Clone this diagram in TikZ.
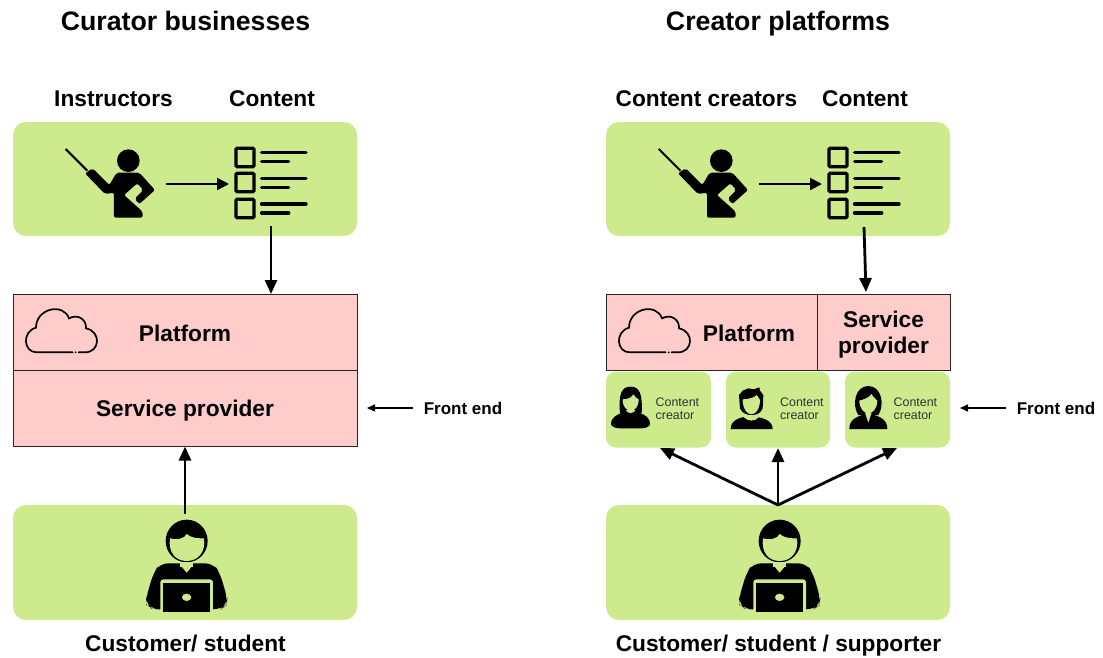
\documentclass[tikz,border=0pt]{standalone}
\usepackage{fontspec}
\setmainfont{Liberation Sans}
\usetikzlibrary{arrows.meta}
\definecolor{grn}{HTML}{CDEA8C}
\definecolor{pnk}{HTML}{FFCCCC}
\tikzset{
 gbox/.style={fill=grn,draw=none,rounded corners=13pt,inner sep=0pt},
 pbox/.style={fill=pnk,draw=black!85,line width=.8pt,inner sep=0pt},
 title/.style={font=\fontsize{26.7}{30}\selectfont\bfseries,inner sep=0pt,anchor=base},
 lab/.style={font=\fontsize{22.7}{26}\selectfont\bfseries,inner sep=0pt,anchor=base},
 small/.style={font=\fontsize{17}{20}\selectfont\bfseries,inner sep=0pt,anchor=base},
 tiny/.style={font=\fontsize{12.4}{13.5}\selectfont,align=left,inner sep=0pt,text=black!80,anchor=west},
 arr/.style={-{Triangle[length=14pt,width=12pt]},line width=2.8pt,black},
 mid arr/.style={-{Triangle[length=12pt,width=12pt]},line width=2pt,black},
 thin arr/.style={-{Triangle[length=8pt,width=7pt]},line width=1.3pt,black},
 zoomed/.style={x=0.3333pt,y=-0.3333pt},
}
% icons drawn in the coordinates of a 3x crop, origin at the crop corner
\newcommand{\teacher}[2]{\begin{scope}[shift={(#1,#2)},zoomed]
 \fill (235,92) circle (34);
 \draw[line width=2pt] (47,57) -- (112,122);
 \fill[rounded corners=2pt] (105,130) -- (128,115) -- (178,165) -- (200,128) -- (268,128) -- (315,180) -- (268,222) -- (254,206) -- (280,180) -- (262,160) -- (222,195) -- (278,245) -- (278,263) -- (192,263) -- (192,188) -- (165,192) -- cycle;
 \foreach \yy/\hh in {55/68,130/145,208/222}{
  \draw[line width=3.2pt,rounded corners=1pt] (558,\yy) rectangle (612,\yy+55);
  \draw[line width=3.4pt,line cap=round] (635,\hh) -- (768,\hh);
  \draw[line width=3.4pt,line cap=round] (635,\hh+27) -- (716,\hh+27);
 }
\end{scope}}
\newcommand{\customer}[2]{\begin{scope}[shift={(#1,#2)},zoomed]
 \fill (170,93) ellipse (63 and 64);
 \fill[grn] (120,85) .. controls (140,92) and (165,85) .. (170,72) .. controls (185,85) and (205,85) .. (222,85) .. controls (228,125) and (205,153) .. (170,153) .. controls (135,153) and (114,125) .. (120,85) -- cycle;
 \fill[rounded corners=8pt] (90,160) -- (250,160) -- (270,190) -- (292,265) -- (290,285) -- (272,298) -- (85,298) -- (66,296) -- (48,282) -- (48,265) -- (70,190) -- cycle;
 \fill[grn] (150,156) rectangle (190,170);
 \fill[grn] (155,170) -- (185,170) -- (170,188) -- cycle;
 \fill[grn,rounded corners=3pt] (91,208) rectangle (249,312);
 \fill (100,218) rectangle (240,305);
 \fill[grn] (170,262) ellipse (14 and 11);
\end{scope}}
\newcommand{\cloud}[2]{\begin{scope}[shift={(#1,#2)},zoomed]
 \draw[line width=1.7pt,line cap=round] (188,172) -- (80,172) .. controls (40,172) and (35,110) .. (78,98) .. controls (78,40) and (160,22) .. (177,70) .. controls (205,55) and (230,75) .. (228,100) .. controls (275,110) and (270,172) .. (225,172) -- (206,172);
 \fill (197,172) circle (3);
\end{scope}}
\newcommand{\womanA}[2]{\begin{scope}[shift={(#1,#2)},zoomed]
 \fill (60,160) .. controls (55,100) and (65,80) .. (92,80) .. controls (118,80) and (128,100) .. (125,160) -- cycle;
 \fill (33,192) .. controls (33,165) and (70,155) .. (92,155) .. controls (115,155) and (150,165) .. (150,192) .. controls (150,200) and (135,205) .. (125,205) -- (60,205) .. controls (48,205) and (33,200) .. (33,192) -- cycle;
 \fill[grn] (68,118) .. controls (85,118) and (95,112) .. (100,103) .. controls (105,112) and (112,116) .. (116,118) .. controls (116,140) and (105,152) .. (92,152) .. controls (79,152) and (68,140) .. (68,118) -- cycle;
 \fill[grn] (78,150) -- (106,150) .. controls (104,162) and (80,162) .. (78,150) -- cycle;
\end{scope}}
\newcommand{\manB}[2]{\begin{scope}[shift={(#1,#2)},zoomed]
 \fill (420,145) -- (417,105) -- (428,92) -- (445,85) -- (462,88) -- (478,82) -- (480,92) -- (490,105) -- (488,145) .. controls (480,172) and (430,172) .. (420,145) -- cycle;
 \fill (392,207) .. controls (392,180) and (420,170) .. (450,170) .. controls (485,170) and (518,180) .. (518,207) -- cycle;
 \fill[grn] (428,118) .. controls (445,118) and (465,112) .. (470,105) .. controls (475,112) and (478,116) .. (480,120) .. controls (480,145) and (468,163) .. (454,163) .. controls (440,163) and (428,145) .. (428,118) -- cycle;
 \fill[grn] (432,172) .. controls (445,185) and (465,185) .. (476,172) -- (470,165) -- (438,165) -- cycle;
\end{scope}}
\newcommand{\womanC}[2]{\begin{scope}[shift={(#1,#2)},zoomed]
 \fill (775,165) .. controls (755,135) and (765,78) .. (805,78) .. controls (845,78) and (855,135) .. (835,165) -- cycle;
 \fill (748,207) .. controls (748,175) and (775,168) .. (805,160) .. controls (835,168) and (862,175) .. (862,207) -- cycle;
 \fill[grn] (778,122) .. controls (795,118) and (810,110) .. (815,102) .. controls (820,112) and (828,118) .. (832,122) .. controls (832,145) and (818,160) .. (805,160) .. controls (792,160) and (778,145) .. (778,122) -- cycle;
 \fill[grn] (795,158) -- (815,158) -- (805,188) -- cycle;
\end{scope}}
\begin{document}
\begin{tikzpicture}[x=1pt,y=-1pt]
\useasboundingbox (0,0) rectangle (1103,657);
% left column
\node[title] (t1) at (185.5,30) {Curator businesses};
\node[lab] (l1) at (113.5,106) {Instructors};
\node[lab] (l2) at (272,106) {Content};
\node[gbox,minimum width=344pt,minimum height=114pt] (top1) at (185,179) {};
\node[pbox,minimum width=344pt,minimum height=76pt] (plat1) at (185,332) {};
\node[pbox,minimum width=344pt,minimum height=76pt] (serv1) at (185,408) {};
\node[lab] (pl1) at (185,341) {Platform};
\node[lab] (sv1) at (185,416) {Service provider};
\node[gbox,minimum width=344pt,minimum height=115pt] (cust1) at (185,562.5) {};
\node[lab] (l3) at (185.5,651) {Customer/ student};
\node[small] (fe1) at (463,414) {Front end};
\teacher{50}{130}
\cloud{10}{295}
\customer{130}{510}
\coordinate (a1) at (166,184);
\coordinate (a2) at (229,184);
\coordinate (b1) at (271,226);
\coordinate (b2) at (271,294);
\coordinate (c1) at (185,514);
\coordinate (c2) at (185,446.5);
\coordinate (d1) at (413,408);
\coordinate (d2) at (367,408);
\draw[mid arr] (a1) -- (a2);
\draw[arr] (b1) -- (b2);
\draw[arr] (c1) -- (c2);
\draw[thin arr] (d1) -- (d2);
% right column
\node[title] (t2) at (778,30) {Creator platforms};
\node[lab] (l4) at (706.5,106) {Content creators};
\node[lab] (l5) at (865,106) {Content};
\node[gbox,minimum width=344pt,minimum height=114pt] (top2) at (778,179) {};
\node[pbox,minimum width=211pt,minimum height=76pt] (plat2) at (711.5,332) {};
\node[pbox,minimum width=133pt,minimum height=76pt] (serv2) at (883.5,332) {};
\node[lab] (pl2) at (749,341) {Platform};
\node[lab] (sv2a) at (883.5,327) {Service};
\node[lab] (sv2b) at (883.5,353) {provider};
\node[gbox,rounded corners=10pt,minimum width=105pt,minimum height=76pt] (c1box) at (658.5,409.5) {};
\node[gbox,rounded corners=10pt,minimum width=104pt,minimum height=76pt] (c2box) at (778,409.5) {};
\node[gbox,rounded corners=10pt,minimum width=105pt,minimum height=76pt] (c3box) at (897.5,409.5) {};
\node[tiny] (n1) at (655.5,408.5) {Content\\creator};
\node[tiny] (n2) at (780,408.5) {Content\\creator};
\node[tiny] (n3) at (893.5,408.5) {Content\\creator};
\node[gbox,minimum width=344pt,minimum height=115pt] (cust2) at (778,562.5) {};
\node[lab] (l6) at (778.5,651) {Customer/ student / supporter};
\node[small] (fe2) at (1056,414) {Front end};
\teacher{643}{130}
\cloud{603}{295}
\customer{723}{510}
\womanA{600}{360}
\manB{600}{360}
\womanC{600}{360}
\coordinate (e1) at (759,184);
\coordinate (e2) at (822,184);
\coordinate (f1) at (864,227);
\coordinate (f2) at (866,292);
\coordinate (g0) at (778,505);
\coordinate (g1) at (660,448);
\coordinate (g2) at (778,448);
\coordinate (g3) at (897,448);
\coordinate (h1) at (1006,408);
\coordinate (h2) at (960,408);
\draw[mid arr] (e1) -- (e2);
\draw[arr] (f1) -- (f2);
\draw[arr] (g0) -- (g1);
\draw[arr] (g0) -- (g2);
\draw[arr] (g0) -- (g3);
\draw[thin arr] (h1) -- (h2);
\end{tikzpicture}
\end{document}
